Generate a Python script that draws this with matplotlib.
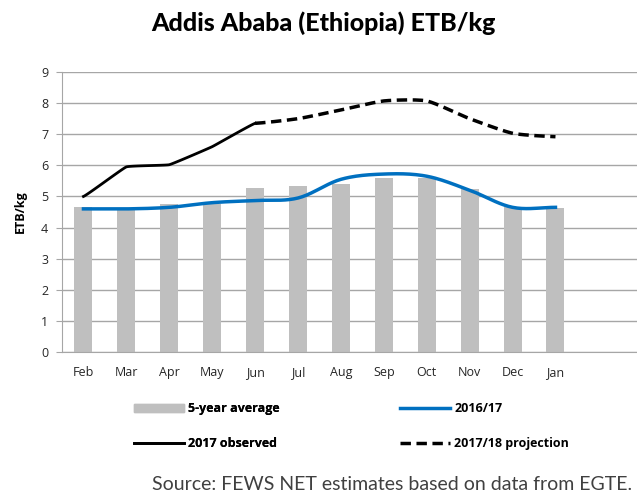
import numpy as np
import matplotlib.pyplot as plt
from matplotlib.lines import Line2D
from matplotlib.patches import Patch

months = ['Feb', 'Mar', 'Apr', 'May', 'Jun', 'Jul', 'Aug', 'Sep', 'Oct', 'Nov', 'Dec', 'Jan']
avg5 = [4.65, 4.6, 4.75, 4.75, 5.27, 5.32, 5.4, 5.6, 5.6, 5.25, 4.65, 4.62]
y1617 = [4.6, 4.6, 4.65, 4.8, 4.87, 4.95, 5.55, 5.72, 5.65, 5.2, 4.65, 4.65]
obs2017 = [5.0, 5.95, 6.02, 6.6, 7.35]
proj1718 = [7.35, 7.5, 7.78, 8.07, 8.07, 7.5, 7.03, 6.92]

GRID = '#a6a6a6'
BAR = '#bfbfbf'
BLUE = '#0070c0'
DASH = (0, (3, 1.6))


def smooth(xs, ys, k=1/6, n=20):
  # bezier through the points, k is the tension (1/6 = catmull-rom)
  xs = np.asarray(xs, float); ys = np.asarray(ys, float)
  px = np.concatenate([[2*xs[0]-xs[1]], xs, [2*xs[-1]-xs[-2]]])
  py = np.concatenate([[ys[0]], ys, [ys[-1]]])
  ox, oy = [], []
  for i in range(1, len(px)-2):
    t = np.linspace(0, 1, n, endpoint=(i == len(px)-3))
    def b(a0, a1, a2, a3):
      return (1-t)**3*a1 + 3*(1-t)**2*t*(a1+(a2-a0)*k) + 3*(1-t)*t**2*(a2-(a3-a1)*k) + t**3*a2
    ox.append(b(*px[i-1:i+3])); oy.append(b(*py[i-1:i+3]))
  return np.concatenate(ox), np.concatenate(oy)


fig = plt.figure(figsize=(6.37, 4.93), dpi=100)
ax = fig.add_axes([62/637, 1-352/493, 1-62/637, 280/493])

x = np.arange(len(months))
ax.bar(x, avg5, width=0.42, color=BAR, zorder=2)

sx, sy = smooth(x, y1617)
ax.plot(sx, sy, color=BLUE, lw=2.5, zorder=3)
sx, sy = smooth(x[:5], obs2017, k=0.04)
ax.plot(sx, sy, color='black', lw=2, zorder=4)
sx, sy = smooth(x[4:], proj1718, k=0.1)
ax.plot(sx, sy, color='black', lw=2.5, ls=DASH, zorder=4)

ax.set_xlim(-0.5, 12.9)
ax.set_ylim(0, 9)
ax.set_yticks(range(10))
ax.set_xticks(x)
ax.set_xticklabels(months)
ax.yaxis.grid(True, color=GRID, lw=1)
ax.set_axisbelow(True)
for s in ['top', 'right']:
  ax.spines[s].set_visible(False)
for s in ['left', 'bottom']:
  ax.spines[s].set_color(GRID)
ax.tick_params(axis='y', length=4, color=GRID, labelsize=9, pad=6)
ax.tick_params(axis='x', length=0, labelsize=9, pad=10)
for lab in ax.get_xticklabels() + ax.get_yticklabels():
  lab.set_family('Open Sans')
  lab.set_color('#262626')
ax.set_ylabel('ETB/kg', fontsize=9, fontweight='bold', family='Open Sans', labelpad=10)

fig.text(323/637, 1-23/493, 'Addis Ababa (Ethiopia) ETB/kg', ha='center', va='center',
         fontsize=18, fontweight='black', family='Lato')

legprops = dict(frameon=False, handlelength=4, handleheight=0.6, labelspacing=1.75,
                handletextpad=0.35, borderpad=0, borderaxespad=0,
                prop={'family': 'Open Sans', 'weight': 'bold', 'size': 9})
leg1 = fig.legend([Patch(color=BAR), Line2D([], [], color='black', lw=2)],
                  ['5-year average', '2017 observed'], loc='upper left',
                  bbox_to_anchor=(134/637, 1-402/493), **legprops)
fig.add_artist(leg1)
fig.legend([Line2D([], [], color=BLUE, lw=2.5), Line2D([], [], color='black', lw=2.5, ls=DASH)],
           ['2016/17', '2017/18 projection'], loc='upper left',
           bbox_to_anchor=(400/637, 1-402/493), **legprops)

fig.text(632/637, 1-484/493, 'Source: FEWS NET estimates based on data from EGTE.', ha='right',
         va='center', fontsize=14, color='#404040', family='Lato')

fig.savefig('out.png', dpi=100)
